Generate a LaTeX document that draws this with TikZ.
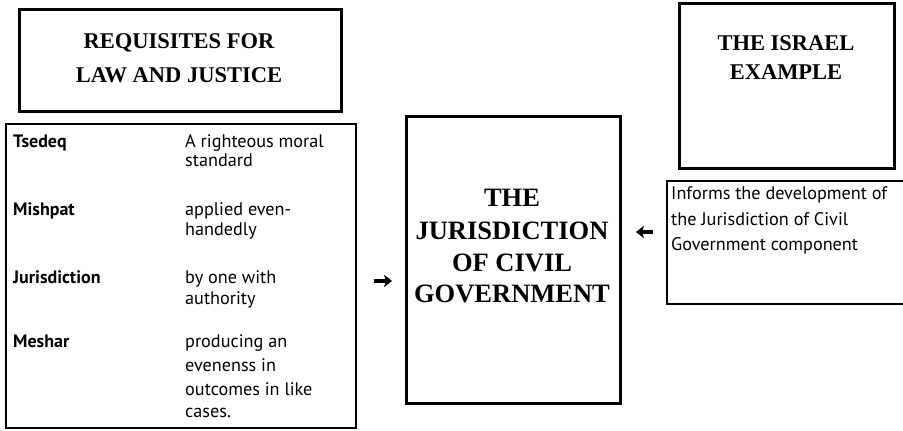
\documentclass[tikz,border=0pt]{standalone}
\usepackage{fontspec}
\setmainfont{Liberation Serif}
\newfontfamily\tabfont{PT Sans}
\usetikzlibrary{arrows.meta}
\begin{document}
\begin{tikzpicture}[x=1pt,y=-1pt,
  thickbox/.style={draw=black, line width=2.6pt, inner sep=0pt, anchor=north west},
  thinbox/.style={draw=black, line width=1.6pt, inner sep=0pt, anchor=north west},
  headtxt/.style={inner sep=0pt, anchor=base, font=\fontsize{22.5}{27}\selectfont\bfseries},
  bigtxt/.style={inner sep=0pt, anchor=base, font=\fontsize{26.5}{32}\selectfont\bfseries},
  termtxt/.style={inner sep=0pt, anchor=base west, font=\tabfont\fontsize{18}{21}\selectfont\bfseries},
  deftxt/.style={inner sep=0pt, anchor=base west, font=\tabfont\fontsize{18.2}{21}\selectfont},
  arr/.style={line width=3.6pt, -{Stealth[length=8pt,width=12.5pt,inset=2pt]}}]
\useasboundingbox (0,0) rectangle (903,431);
\fill[white] (0,0) rectangle (903,431);
% boxes
\node[thickbox, minimum width=322pt, minimum height=102pt] (reqbox) at (18,8) {};
\node[thinbox, minimum width=350pt, minimum height=304pt] (tabbox) at (5,123) {};
\node[thickbox, minimum width=214pt, minimum height=287pt] (cenbox) at (405,115) {};
\node[thickbox, minimum width=215pt, minimum height=165pt] (isrbox) at (678,2) {};
\node[thinbox, minimum width=250pt, minimum height=123pt] (infbox) at (666,180) {};
% headings
\node[headtxt] (req1) at (179,48) {REQUISITES FOR};
\node[headtxt] (req2) at (179,82) {LAW AND JUSTICE};
\node[headtxt] (isr1) at (786,50) {THE ISRAEL};
\node[headtxt] (isr2) at (786,79) {EXAMPLE};
\node[bigtxt] (cen1) at (512,206) {THE};
\node[bigtxt] (cen2) at (512,239) {JURISDICTION};
\node[bigtxt] (cen3) at (512,271) {OF CIVIL};
\node[bigtxt] (cen4) at (512,302) {GOVERNMENT};
% table
\node[termtxt] (t1) at (13,147) {Tsedeq};
\node[deftxt] (d1a) at (185,147) {A righteous moral};
\node[deftxt] (d1b) at (185,166) {standard};
\node[termtxt] (t2) at (13,215) {Mishpat};
\node[deftxt] (d2a) at (185,215) {applied even-};
\node[deftxt] (d2b) at (185,235) {handedly};
\node[termtxt] (t3) at (13,283) {Jurisdiction};
\node[deftxt] (d3a) at (185,283) {by one with};
\node[deftxt] (d3b) at (185,304) {authority};
\node[termtxt] (t4) at (13,347) {Meshar};
\node[deftxt] (d4a) at (185,347) {producing an};
\node[deftxt] (d4b) at (185,371) {evenenss in};
\node[deftxt] (d4c) at (185,395) {outcomes in like};
\node[deftxt] (d4d) at (185,417) {cases.};
% informs text
\node[deftxt] (i1) at (671,199) {Informs the development of};
\node[deftxt] (i2) at (671,225) {the Jurisdiction of Civil};
\node[deftxt] (i3) at (671,250) {Government component};
% arrows
\coordinate (ra1) at (374,281);
\coordinate (ra2) at (392,281);
\coordinate (la1) at (653,232);
\coordinate (la2) at (636,232);
\draw[arr] (ra1) -- (ra2);
\draw[arr] (la1) -- (la2);
\end{tikzpicture}
\end{document}
